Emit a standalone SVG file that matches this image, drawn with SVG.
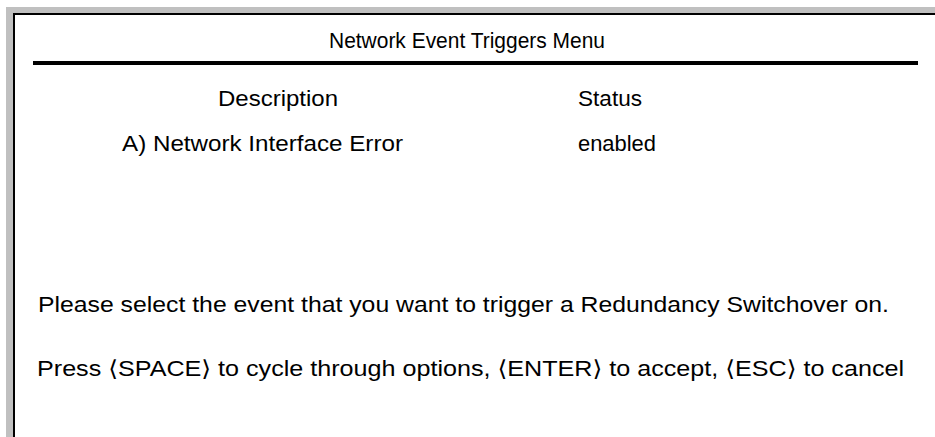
<svg xmlns="http://www.w3.org/2000/svg" width="935" height="437" viewBox="0 0 935 437">
<style>
.t{font-family:"Liberation Sans","DejaVu Sans",sans-serif;font-size:22px;fill:#000}
.m{text-anchor:middle}
</style>
<rect width="935" height="437" fill="#fff"/>
<g id="frame">
<rect x="6" y="7" width="929" height="430" fill="#c0c0c0"/>
<rect x="13" y="13" width="922" height="424" fill="#000"/>
<rect x="15" y="15" width="920" height="422" fill="#fff"/>
<rect x="33" y="61" width="885" height="4" fill="#000"/>
</g>
<g id="title"><text class="t m" x="467" y="48" textLength="276" lengthAdjust="spacingAndGlyphs">Network Event Triggers Menu</text></g>
<g id="header">
<text class="t" x="218" y="106" textLength="120" lengthAdjust="spacingAndGlyphs">Description</text>
<text class="t" x="578" y="106" textLength="64" lengthAdjust="spacingAndGlyphs">Status</text>
</g>
<g id="row-a">
<text class="t" x="122" y="151" textLength="281" lengthAdjust="spacingAndGlyphs">A) Network Interface Error</text>
<text class="t" x="578" y="151" textLength="78" lengthAdjust="spacingAndGlyphs">enabled</text>
</g>
<g id="prompt"><text class="t" x="38" y="312" textLength="851" lengthAdjust="spacingAndGlyphs">Please select the event that you want to trigger a Redundancy Switchover on.</text></g>
<g id="help"><text class="t" x="37" y="376" textLength="867" lengthAdjust="spacingAndGlyphs">Press ⟨SPACE⟩ to cycle through options, ⟨ENTER⟩ to accept, ⟨ESC⟩ to cancel</text></g>
</svg>
